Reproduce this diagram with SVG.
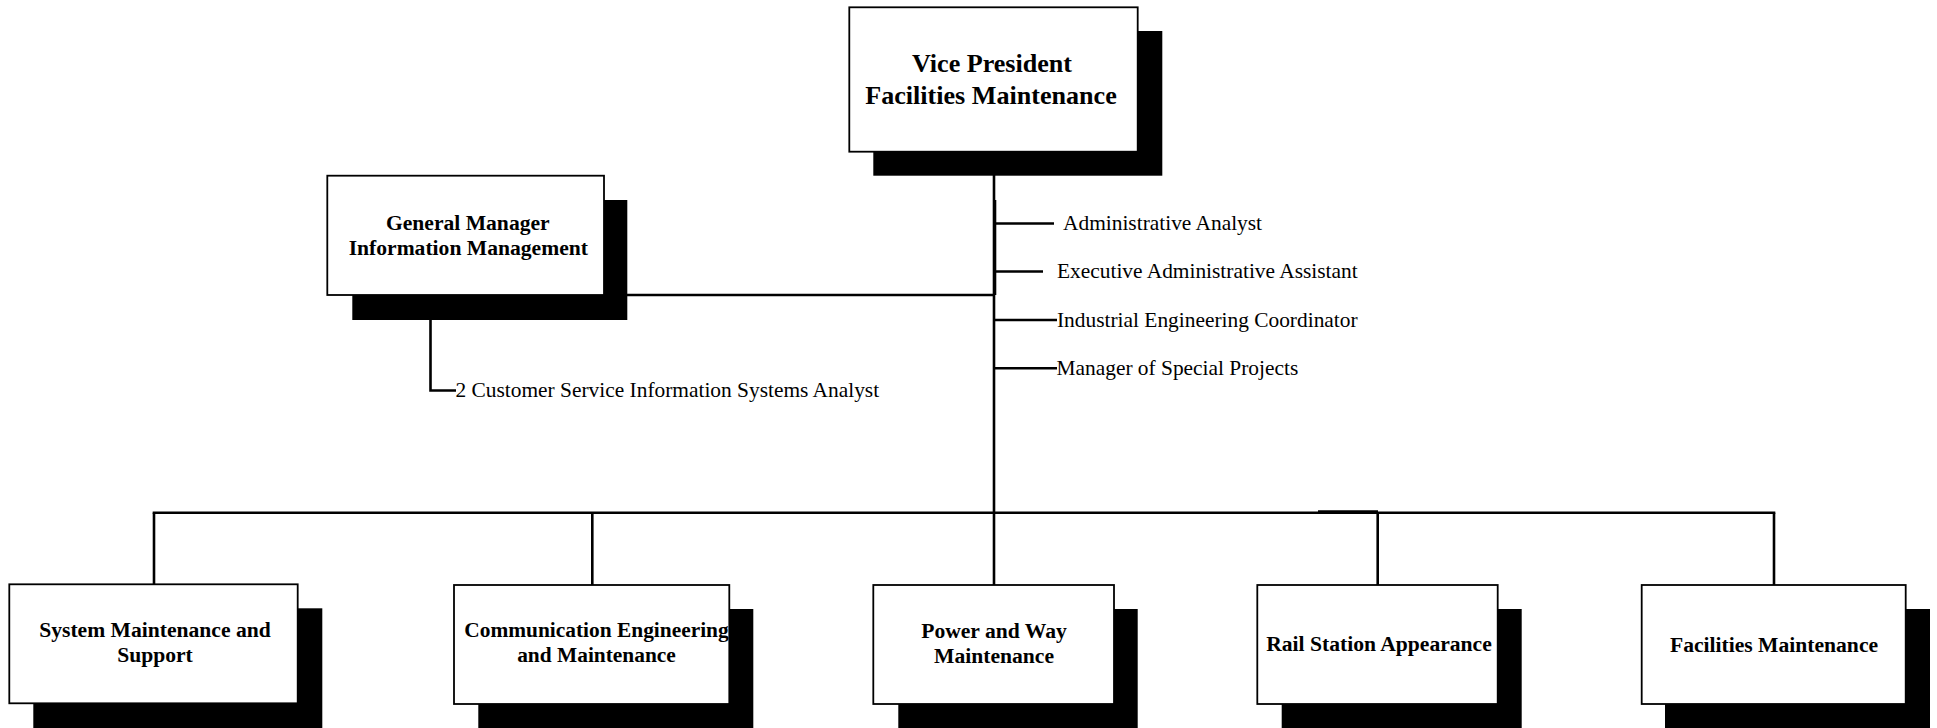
<svg xmlns="http://www.w3.org/2000/svg" width="1937" height="728" viewBox="0 0 1937 728">
  <style>
    .shadow { fill: #000; }
    .box { fill: #fff; stroke: #000; stroke-width: 1.8; }
    .title { font-family: "Liberation Serif", "Times New Roman", serif; font-weight: bold; fill: #000; text-anchor: middle; }
    .label { font-family: "Liberation Serif", "Times New Roman", serif; font-size: 21.4px; fill: #000; }
    .wire { fill: none; stroke: #000; stroke-width: 2.6; }
  </style>
  <rect width="1937" height="728" fill="#fff"/>

  <!-- connectors -->
  <g id="connectors">
    <!-- main trunk from the vice president down to the bus -->
    <line class="wire" x1="994" y1="150" x2="994" y2="585"/>
    <line class="wire" x1="995" y1="200" x2="995" y2="295"/>
    <!-- general manager branch -->
    <line class="wire" x1="466" y1="295" x2="994" y2="295"/>
    <polyline class="wire" points="430.5,318 430.5,390.5 456,390.5"/>
    <!-- staff positions -->
    <line class="wire" x1="994" y1="223.5" x2="1054" y2="223.5"/>
    <line class="wire" x1="994" y1="271.5" x2="1043" y2="271.5"/>
    <line class="wire" x1="994" y1="320" x2="1057" y2="320"/>
    <line class="wire" x1="994" y1="368.3" x2="1057" y2="368.3"/>
    <!-- department bus -->
    <line class="wire" x1="152.7" y1="512.7" x2="1775.3" y2="512.7"/>
    <line class="wire" x1="1318" y1="511.5" x2="1378" y2="511.5"/>
    <line class="wire" x1="154" y1="512.7" x2="154" y2="585"/>
    <line class="wire" x1="592.3" y1="512.7" x2="592.3" y2="585"/>
    <line class="wire" x1="1377.7" y1="512.7" x2="1377.7" y2="585"/>
    <line class="wire" x1="1774" y1="512.7" x2="1774" y2="585"/>
  </g>

  <!-- staff labels -->
  <g id="staff-labels">
    <text class="label" x="1063" y="230">Administrative Analyst</text>
    <text class="label" x="1057" y="278">Executive Administrative Assistant</text>
    <text class="label" x="1057" y="326.5">Industrial Engineering Coordinator</text>
    <text class="label" x="1056.5" y="374.8">Manager of Special Projects</text>
    <text class="label" x="455.5" y="397">2 Customer Service Information Systems Analyst</text>
  </g>

  <g id="vp">
    <rect class="shadow" x="873.3" y="31" width="289" height="144.7"/>
    <rect class="box" x="849.3" y="7.3" width="288.4" height="144.4"/>
    <text class="title" font-size="26.1" x="992" y="71.7">Vice President</text>
    <text class="title" font-size="26.1" x="991" y="104">Facilities Maintenance</text>
  </g>

  <g id="gm-info">
    <rect class="shadow" x="352.3" y="200" width="275" height="120"/>
    <rect class="box" x="327.3" y="175.7" width="276.7" height="119.3"/>
    <text class="title" font-size="21.6" x="467.8" y="230">General Manager</text>
    <text class="title" font-size="21.6" x="468.3" y="255">Information Management</text>
  </g>

  <g id="system-maintenance">
    <rect class="shadow" x="33.3" y="608.3" width="289" height="120"/>
    <rect class="box" x="9.3" y="584.3" width="288.4" height="119"/>
    <text class="title" font-size="21.6" x="155" y="636.7">System Maintenance and</text>
    <text class="title" font-size="21.6" x="155" y="662.3">Support</text>
  </g>

  <g id="communication">
    <rect class="shadow" x="478.3" y="609" width="275" height="119"/>
    <rect class="box" x="454" y="585" width="275.3" height="119"/>
    <text class="title" font-size="21.4" x="596.5" y="636.7">Communication Engineering</text>
    <text class="title" font-size="21.4" x="596.5" y="662.3">and Maintenance</text>
  </g>

  <g id="power-way">
    <rect class="shadow" x="898.3" y="609" width="239.4" height="119"/>
    <rect class="box" x="873.3" y="585" width="240.7" height="119"/>
    <text class="title" font-size="21.6" x="994" y="638.3">Power and Way</text>
    <text class="title" font-size="21.6" x="994" y="663.3">Maintenance</text>
  </g>

  <g id="rail-station">
    <rect class="shadow" x="1281.7" y="609" width="240" height="119"/>
    <rect class="box" x="1257.3" y="585" width="240.4" height="119"/>
    <text class="title" font-size="21.6" x="1379" y="651">Rail Station Appearance</text>
  </g>

  <g id="facilities">
    <rect class="shadow" x="1665" y="609" width="265" height="119"/>
    <rect class="box" x="1641.7" y="585" width="264" height="119"/>
    <text class="title" font-size="21.6" x="1774" y="651.7">Facilities Maintenance</text>
  </g>
</svg>
